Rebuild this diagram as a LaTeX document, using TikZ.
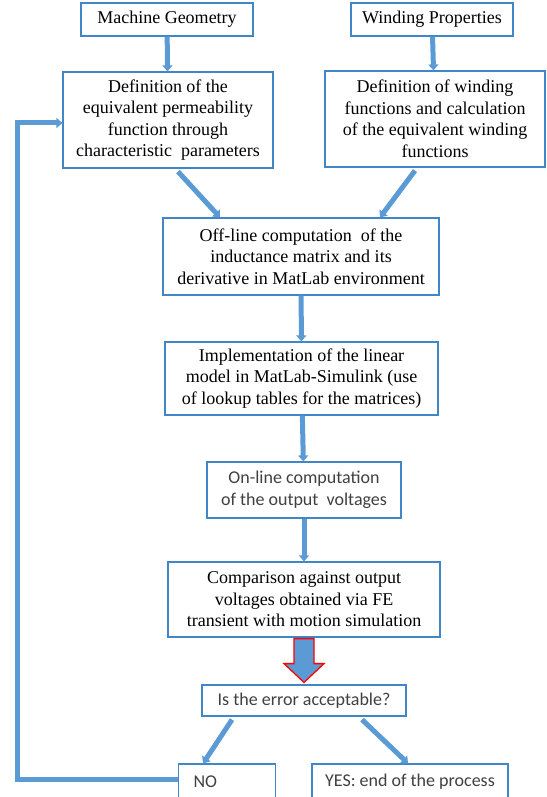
\documentclass[tikz,border=0pt]{standalone}
\usepackage{fontspec}
\setmainfont{Liberation Serif}
\newfontfamily\calibri{Carlito}
\usetikzlibrary{arrows.meta,calc}
\definecolor{flowblue}{RGB}{91,155,213}
\definecolor{boxblue}{RGB}{65,135,200}
\definecolor{sanstext}{RGB}{64,64,64}

\begin{document}
\begin{tikzpicture}[x=1pt, y=-1pt,
  box/.style={draw=boxblue, line width=1.2pt, fill=white, align=center, inner sep=0pt,
    font=\fontsize{18}{21.5}\selectfont},
  sbox/.style={box, text=sanstext, font=\calibri\fontsize{18}{22}\selectfont},
  flow/.style={flowblue, line width=5pt, -{Stealth[length=6pt,width=10pt,inset=0pt]}}]
  \useasboundingbox (0,0) rectangle (546,797);
  \node[box, minimum width=172pt, minimum height=33pt] (geom) at (167,19.5) {Machine Geometry};
  \node[box, minimum width=162pt, minimum height=33pt] (wprop) at (432,19.5) {Winding Properties};
  \node[box, minimum width=210pt, minimum height=96pt] (perm) at (168,120)
    {Definition of the\\equivalent permeability\\function through\\characteristic\ \ parameters};
  \node[box, minimum width=220pt, minimum height=96pt] (wfun) at (435,119)
    {Definition of winding\\functions and calculation\\of the equivalent winding\\functions};
  \node[box, minimum width=276pt, minimum height=77pt] (offl) at (301,256.5)
    {Off-line computation\ \ of the\\inductance matrix and its\\derivative in MatLab environment};
  \node[box, minimum width=273pt, minimum height=73pt] (impl) at (301.5,378.5)
    {Implementation of the linear\\model in MatLab-Simulink (use\\of lookup tables for the matrices)};
  \node[sbox, minimum width=194pt, minimum height=56pt] (onl) at (304,490)
    {On-line computation\\of the output\ \ voltages};
  \node[box, minimum width=272pt, minimum height=75pt] (cmp) at (304,599.5)
    {Comparison against output\\voltages obtained via FE\\transient with motion simulation};
  \node[sbox, minimum width=204pt, minimum height=31pt] (err) at (304,700.5) {Is the error acceptable?};
  \node[sbox, anchor=west, text width=67pt, inner xsep=15pt, align=left, minimum height=36pt] (no) at (178,782) {NO};
  \node[sbox, minimum width=196pt, minimum height=36pt] (yes) at (410,782) {YES: end of the process};

  \path[flow]
  (geom) edge (perm)
  (wprop) edge (wfun)
  ([xshift=10pt,yshift=-3pt]perm.south) edge ([xshift=-81pt]offl.north)
  ([xshift=-20pt,yshift=-3pt]wfun.south) edge ([xshift=79pt]offl.north)
  (offl) edge (impl)
  (impl) edge (onl)
  (onl) edge (cmp)
  ([xshift=-72pt,yshift=-3pt]err.south) edge ([xshift=-24pt]no.north)
  ([xshift=58pt,yshift=-3pt]err.south) edge ([xshift=-2pt]yes.north);
  \draw[flow] ([yshift=3pt]no.west) -- ++(-161,0) |- ([yshift=-3pt]perm.west);
  \draw[red, line width=1.3pt, fill=flowblue, line join=miter]
  ($(cmp.south)+(-10,1)$) -- ++(20,0) -- ++(0,25) -- ++(10,0) -- ($(err.north)+(0,-2)$)
  -- ($(cmp.south)+(-20,26)$) -- ++(10,0) -- cycle;
\end{tikzpicture}
\end{document}
